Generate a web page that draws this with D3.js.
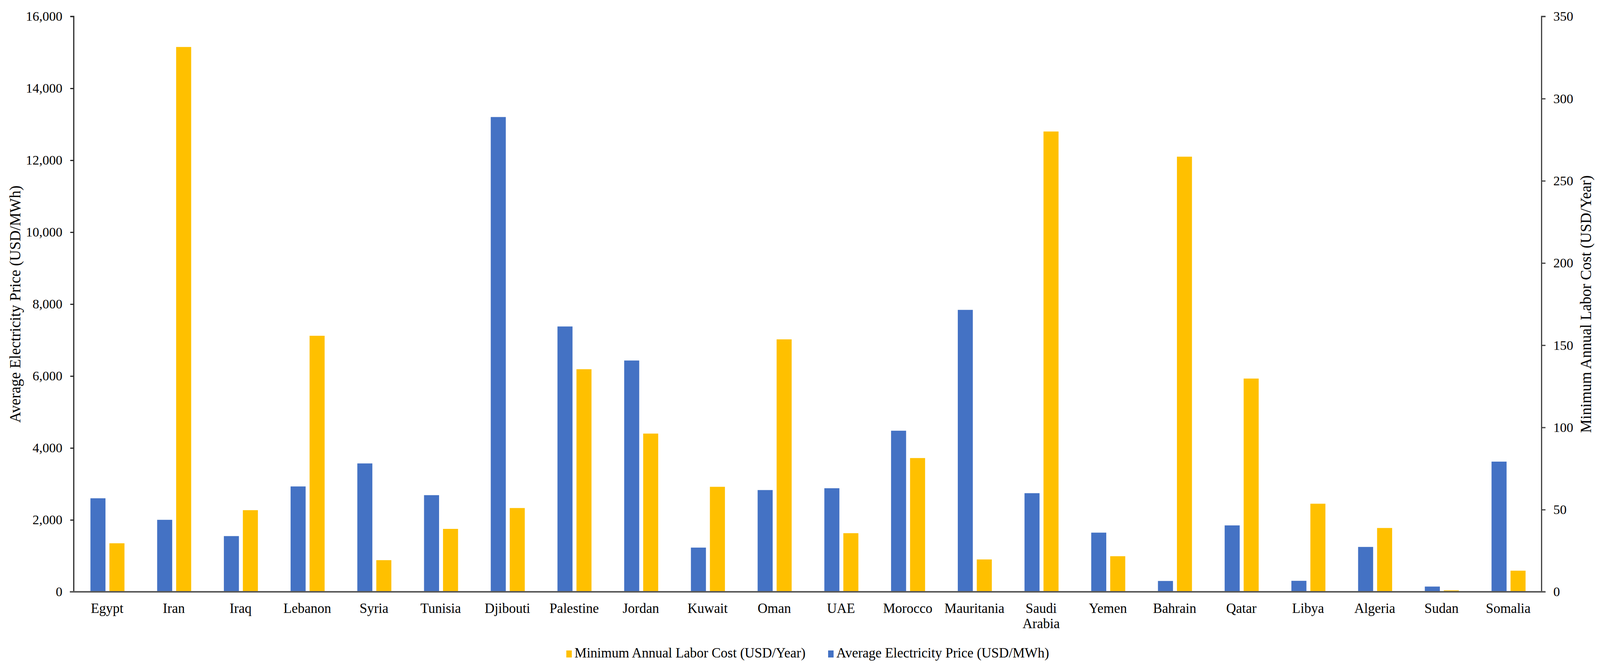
<!DOCTYPE html>
<html>
<head>
<meta charset="utf-8">
<script src="https://cdn.jsdelivr.net/npm/d3@7"></script>
<style>
  html, body { margin: 0; padding: 0; background: #fff; overflow: hidden; }
  svg { display: block; }
  text { font-family: "Liberation Serif", "Times New Roman", serif; fill: #000; }
</style>
</head>
<body>
<svg id="chart"></svg>
<script>
// ---- data ----
const countries = ["Egypt","Iran","Iraq","Lebanon","Syria","Tunisia","Djibouti","Palestine","Jordan","Kuwait","Oman","UAE","Morocco","Mauritania","Saudi Arabia","Yemen","Bahrain","Qatar","Libya","Algeria","Sudan","Somalia"];
// Minimum Annual Labor Cost (USD/Year) – yellow bars, left scale
const laborCost = [1350, 15150, 2270, 7120, 880, 1750, 2330, 6190, 4400, 2920, 7020, 1630, 3720, 900, 12800, 990, 12100, 5930, 2450, 1775, 40, 588];
// Average Electricity Price (USD/MWh) – blue bars, right scale
const electricityPrice = [56.9, 43.8, 33.9, 64.1, 78.1, 58.8, 288.8, 161.4, 140.7, 26.9, 61.9, 63.0, 98.0, 171.5, 60.0, 36.0, 6.6, 40.4, 6.7, 27.3, 3.2, 79.2];
const leftTicks = [0, 2000, 4000, 6000, 8000, 10000, 12000, 14000, 16000];
const rightTicks = [0, 50, 100, 150, 200, 250, 300, 350];
const seriesNames = ["Average Electricity Price (USD/MWh)", "Minimum Annual Labor Cost (USD/Year)"];
const leftTitle = "Average Electricity Price (USD/MWh)";
const rightTitle = "Minimum Annual Labor Cost (USD/Year)";
const colors = { elec: "#4472C4", labor: "#FFC000" };

// ---- layout (designed on a 4382 x 1714 canvas, fitted to the viewport width) ----
const W = window.innerWidth || 4382, H = window.innerHeight || 1714;
const sx = W / 4382, sy = H / 1714;
const X = (v) => v * sx, Y = (v) => v * sy;

const svg = d3.select("#chart").attr("width", W).attr("height", H);
const L = X(202), R = X(4222), T = Y(42), B = Y(1514);

const x0 = d3.scaleBand().domain(countries).range([L, R]).paddingInner(0).paddingOuter(0);
const bw = x0.bandwidth();
const x1 = d3.scaleBand().domain(["elec","labor"]).range([bw*0.25, bw*0.76]).paddingInner(0.208).paddingOuter(0);
const yL = d3.scaleLinear().domain([0, 16000]).range([B, T]);
const yR = d3.scaleLinear().domain([0, 350]).range([B, T]);

// bars
const g = svg.append("g");
g.selectAll("rect.elec").data(countries).join("rect")
  .attr("class","elec")
  .attr("x", (d) => x0(d) + x1("elec"))
  .attr("width", x1.bandwidth())
  .attr("y", (d,i) => yR(electricityPrice[i]))
  .attr("height", (d,i) => B - yR(electricityPrice[i]))
  .attr("fill", colors.elec);
g.selectAll("rect.labor").data(countries).join("rect")
  .attr("class","labor")
  .attr("x", (d) => x0(d) + x1("labor"))
  .attr("width", x1.bandwidth())
  .attr("y", (d,i) => yL(laborCost[i]))
  .attr("height", (d,i) => B - yL(laborCost[i]))
  .attr("fill", colors.labor);

// left axis
const axL = d3.axisLeft(yL).tickValues(leftTicks).tickSize(9).tickPadding(20)
  .tickFormat(d3.format(","));
const gL = svg.append("g").attr("transform", `translate(${L},0)`).call(axL);
gL.select(".domain").attr("stroke", "#262626").attr("stroke-width", 3).attr("d", `M-9,${T}H0V${B}`);
gL.selectAll(".tick line").attr("stroke", "#262626").attr("stroke-width", 3);
gL.selectAll(".tick text").style("font-size", "34px").style("font-family", '"Liberation Serif", serif').attr("fill","#000");

// right axis
const axR = d3.axisRight(yR).tickValues(rightTicks).tickSize(10).tickPadding(20);
const gR = svg.append("g").attr("transform", `translate(${R},0)`).call(axR);
gR.select(".domain").attr("stroke", "#404040").attr("stroke-width", 3).attr("d", `M10,${T}H0V${B}`);
gR.selectAll(".tick line").attr("stroke", "#404040").attr("stroke-width", 3);
gR.selectAll(".tick text").style("font-size", "34px").style("font-family", '"Liberation Serif", serif').attr("fill","#000");

// baseline (category axis)
const axB = d3.axisBottom(x0).tickSize(0).tickFormat("");
const gB = svg.append("g").attr("transform", `translate(0,${B})`).call(axB);
gB.select(".domain").attr("stroke", "#595959").attr("stroke-width", 4).attr("d", `M${L-10},0H${R+10}`);

// category labels
const lab = svg.append("g");
countries.forEach((c) => {
  const cx = x0(c) + bw / 2;
  const words = c === "Saudi Arabia" ? ["Saudi", "Arabia"] : [c];
  const t = lab.append("text").attr("x", cx).attr("y", Y(1568)).attr("text-anchor", "middle").style("font-size", "35px");
  words.forEach((w, k) => t.append("tspan").attr("x", cx).attr("dy", k === 0 ? 0 : Y(39)).text(w));
});

// axis titles
svg.append("text").attr("transform", `translate(${X(56)},${(T+B)/2}) rotate(-90)`)
  .attr("text-anchor", "middle").style("font-size", "39px").text(leftTitle);
svg.append("text").attr("transform", `translate(${X(4357)},${(T+B)/2}) rotate(-90)`)
  .attr("text-anchor", "middle").style("font-size", "39px").text(rightTitle);

// legend
const leg = svg.append("g");
const legendItems = [
  { name: seriesNames[1], color: colors.labor, x: X(1551) },
  { name: seriesNames[0], color: colors.elec, x: X(2268) }
];
legendItems.forEach((it) => {
  leg.append("rect").attr("x", it.x).attr("y", Y(1664)).attr("width", 14).attr("height", 18).attr("fill", it.color);
  leg.append("text").attr("x", it.x + 21).attr("y", Y(1682)).style("font-size", "35px").text(it.name);
});
</script>
</body>
</html>
